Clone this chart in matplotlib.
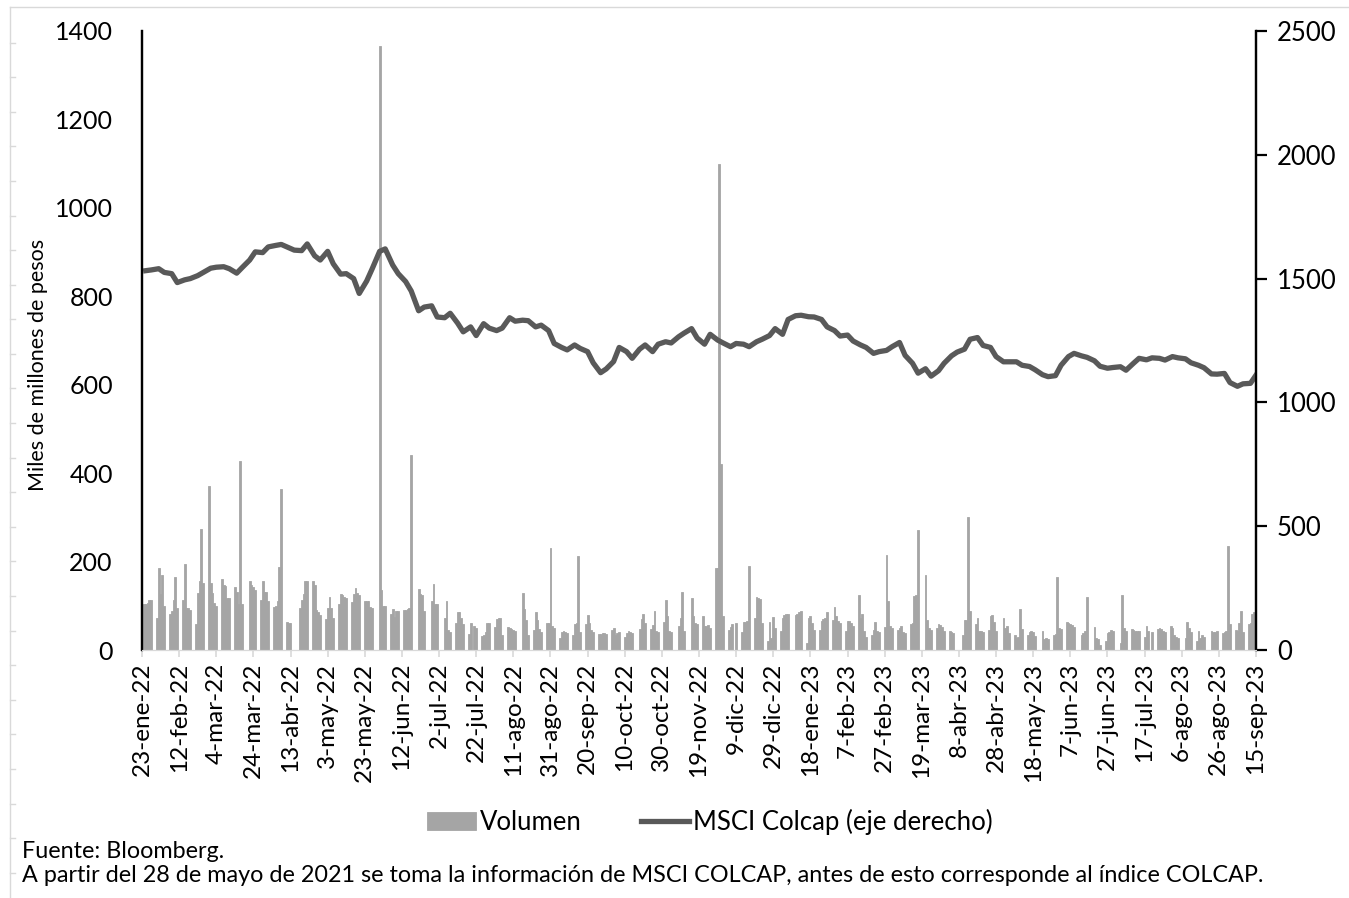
import matplotlib
matplotlib.use("Agg")
import matplotlib.pyplot as plt
from matplotlib.lines import Line2D
import matplotlib.dates as mdates
import numpy as np
import pandas as pd

plt.rcParams['font.family'] = ['Lato', 'DejaVu Sans']

# volumen diario (miles de millones de pesos), una fila por semana lun..vie, 0 = festivo
volumen_semanal = [
    [105, 105, 107, 112, 112], [72, 185, 126, 170, 100], [82, 88, 112, 166, 95],
    [112, 195, 96, 95, 90], [58, 130, 155, 273, 152], [370, 152, 128, 107, 100],
    [160, 147, 145, 118, 118], [142, 132, 103, 427, 103], [0, 157, 147, 142, 135],
    [114, 155, 131, 131, 110], [97, 100, 110, 188, 365], [64, 62, 60, 0, 0],
    [96, 112, 127, 155, 155], [155, 148, 90, 85, 80], [70, 96, 120, 96, 73],
    [103, 127, 124, 120, 118], [108, 127, 140, 128, 125], [111, 111, 111, 97, 95],
    [0, 1365, 135, 100, 99], [82, 92, 75, 88, 88], [90, 90, 92, 96, 440],
    [0, 137, 126, 124, 88], [0, 111, 150, 105, 104], [0, 73, 110, 45, 40],
    [60, 87, 87, 73, 59], [37, 62, 0, 55, 50], [32, 35, 40, 62, 60],
    [52, 70, 72, 72, 35], [52, 50, 48, 45, 42], [0, 128, 92, 68, 35],
    [45, 86, 68, 48, 40], [60, 62, 230, 55, 50], [28, 40, 42, 40, 38],
    [35, 58, 62, 213, 40], [58, 80, 60, 45, 40], [37, 37, 38, 38, 36],
    [45, 50, 35, 38, 40], [30, 38, 42, 40, 38], [0, 48, 70, 82, 60],
    [48, 57, 88, 43, 40], [64, 112, 77, 44, 40], [0, 55, 73, 131, 43],
    [0, 118, 77, 62, 58], [77, 54, 55, 56, 50], [186, 186, 1100, 420, 77],
    [45, 52, 58, 0, 60], [40, 64, 64, 65, 190], [73, 120, 118, 115, 60],
    [20, 63, 28, 75, 50], [42, 72, 80, 82, 82], [0, 80, 82, 85, 88],
    [16, 73, 77, 60, 45], [45, 66, 70, 72, 87], [68, 98, 77, 66, 60],
    [44, 66, 65, 62, 55], [124, 73, 82, 42, 30], [35, 45, 63, 43, 40],
    [53, 214, 111, 55, 50], [45, 50, 54, 40, 38], [58, 62, 122, 125, 271],
    [0, 170, 68, 50, 45], [50, 58, 57, 52, 42], [43, 40, 38, 0, 0],
    [35, 67, 68, 300, 88], [58, 73, 43, 42, 40], [45, 77, 79, 64, 43],
    [0, 73, 50, 54, 38], [35, 28, 30, 92, 47], [35, 40, 43, 40, 32],
    [0, 43, 24, 28, 25], [35, 37, 165, 50, 47], [64, 60, 58, 56, 52],
    [0, 35, 38, 42, 120], [0, 51, 28, 25, 12], [20, 38, 40, 45, 42],
    [0, 15, 124, 49, 43], [47, 45, 43, 42, 42], [30, 54, 43, 0, 40],
    [48, 50, 47, 43, 40], [55, 50, 35, 30, 28], [0, 28, 64, 50, 40],
    [20, 43, 28, 35, 30], [0, 43, 40, 40, 42], [38, 40, 42, 235, 58],
    [45, 43, 60, 88, 40], [58, 60, 82, 85, 365],
]

# MSCI Colcap, valores de martes y viernes de cada semana
colcap_semanal = [
    (1532, 1535), (1540, 1525), (1520, 1484), (1495, 1500), (1512, 1525),
    (1542, 1546), (1548, 1540), (1522, 1545), (1575, 1608), (1605, 1628),
    (1634, 1638), (1625, 1615), (1613, 1640), (1592, 1575), (1610, 1560),
    (1518, 1520), (1500, 1440), (1490, 1540), (1610, 1620), (1555, 1520),
    (1488, 1450), (1370, 1385), (1390, 1345), (1342, 1360), (1320, 1285),
    (1305, 1270), (1318, 1300), (1290, 1300), (1342, 1328), (1332, 1330),
    (1305, 1312), (1290, 1238), (1222, 1212), (1232, 1218), (1205, 1160),
    (1120, 1135), (1165, 1222), (1205, 1178), (1215, 1232), (1205, 1235),
    (1245, 1240), (1265, 1280), (1298, 1260), (1235, 1275), (1252, 1240),
    (1225, 1238), (1235, 1225), (1245, 1255), (1270, 1298), (1275, 1335),
    (1350, 1352), (1346, 1345), (1335, 1305), (1290, 1268), (1272, 1248),
    (1232, 1222), (1198, 1205), (1210, 1225), (1242, 1190), (1158, 1118),
    (1136, 1106), (1128, 1158), (1188, 1203), (1215, 1255), (1262, 1230),
    (1222, 1185), (1164, 1164), (1164, 1150), (1145, 1132), (1112, 1104),
    (1108, 1150), (1185, 1198), (1188, 1182), (1168, 1146), (1138, 1141),
    (1144, 1130), (1158, 1178), (1172, 1180), (1178, 1171), (1185, 1180),
    (1176, 1160), (1150, 1140), (1115, 1114), (1117, 1080), (1065, 1075),
    (1077, 1110),
]

meses = ['ene', 'feb', 'mar', 'abr', 'may', 'jun', 'jul', 'ago', 'sep', 'oct', 'nov', 'dic']

dias = pd.bdate_range('2022-01-24', '2023-09-15')
volumen = np.array(volumen_semanal).ravel()
dias_colcap = dias[dias.weekday.isin([1, 4])]
colcap = np.array(colcap_semanal).ravel()

W, H = 1349, 898
fig = plt.figure(figsize=(W / 100, H / 100), dpi=100)
ax = fig.add_axes([142 / W, 1 - 650 / H, (1256 - 142) / W, (650 - 31) / H])
ax2 = ax.twinx()

barras = ax.bar(dias, volumen, width=1.0, color='#a5a5a5', edgecolor='#a5a5a5',
                linewidth=0.6, label='Volumen')
linea, = ax2.plot(dias_colcap, colcap, color='#595959', lw=3.8,
                  solid_joinstyle='round', label='MSCI Colcap (eje derecho)')

ax.set_xlim(mdates.date2num(pd.Timestamp('2022-01-23')), mdates.date2num(pd.Timestamp('2023-09-15')))
ax.set_ylim(0, 1400)
ax2.set_ylim(0, 2500)
ax.set_yticks(range(0, 1401, 200))
ax2.set_yticks(range(0, 2501, 500))

ticks = pd.date_range('2022-01-23', '2023-09-15', freq='20D')
ax.set_xticks(ticks)
ax.set_xticklabels([f"{d.day}-{meses[d.month - 1]}-{d:%y}" for d in ticks], rotation=90)

for a in (ax, ax2):
    a.spines['top'].set_visible(False)
    a.spines['bottom'].set_color('#d9d9d9')
    a.spines['left'].set_color('black')
    a.spines['right'].set_color('black')
    a.spines['left'].set_linewidth(1.6)
    a.spines['right'].set_linewidth(1.6)
ax.tick_params(axis='y', length=0, pad=21, labelsize=18)
ax.tick_params(axis='x', length=5, color='#d9d9d9', width=1.2, pad=4, labelsize=17.5)
ax2.tick_params(axis='y', length=8, width=1.6, direction='out', pad=7, labelsize=18.5)

fig.text(38 / W, 1 - 365 / H, 'Miles de millones de pesos', rotation=90,
         ha='center', va='center', fontsize=15.5)

fig.legend([barras, linea], ['Volumen', 'MSCI Colcap (eje derecho)'], loc='center',
           bbox_to_anchor=(710 / W, 1 - 822 / H), ncol=2, frameon=False, fontsize=18.5,
           handlelength=1.9, handleheight=0.7, handletextpad=0.15, columnspacing=2.3)

fig.text(22 / W, 1 - 851 / H, 'Fuente: Bloomberg.', va='center', fontsize=16.8)
fig.text(22 / W, 1 - 876 / H,
         'A partir del 28 de mayo de 2021 se toma la información de MSCI COLCAP, '
         'antes de esto corresponde al índice COLCAP.', va='center', fontsize=16.8)

# borde gris claro de la hoja
gris = '#d9d9d9'
fig.add_artist(Line2D([10 / W, 1], [1 - 7 / H] * 2, color=gris, lw=1, transform=fig.transFigure))
fig.add_artist(Line2D([10 / W] * 2, [0, 1 - 7 / H], color=gris, lw=1, transform=fig.transFigure))
for y in np.arange(42.5, H, 34.6):
    fig.add_artist(Line2D([10 / W, 15 / W], [1 - y / H] * 2, color=gris, lw=1,
                          transform=fig.transFigure))

fig.savefig('out.png', dpi=100)
